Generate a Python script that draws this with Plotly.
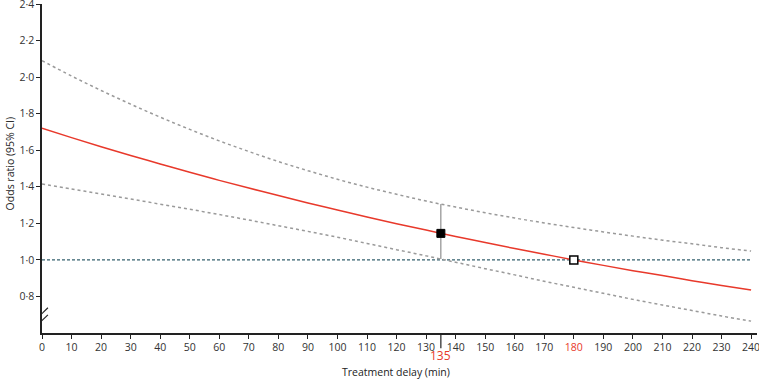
import plotly.graph_objects as go

delay = [0, 10, 20, 30, 40, 50, 60, 70, 80, 90, 100, 110, 120, 130, 140, 150,
         160, 170, 180, 190, 200, 210, 220, 230, 240]
odds = [1.720, 1.669, 1.619, 1.571, 1.525, 1.479, 1.435, 1.393, 1.352, 1.311,
        1.273, 1.235, 1.198, 1.163, 1.128, 1.095, 1.062, 1.031, 1.000, 0.970,
        0.941, 0.914, 0.886, 0.860, 0.835]
upper = [2.090, 2.006, 1.927, 1.852, 1.781, 1.714, 1.651, 1.593, 1.538, 1.488,
         1.441, 1.398, 1.359, 1.322, 1.289, 1.258, 1.229, 1.202, 1.177, 1.153,
         1.130, 1.108, 1.088, 1.067, 1.048]
lower = [1.415, 1.388, 1.361, 1.333, 1.305, 1.277, 1.248, 1.218, 1.187, 1.156,
         1.124, 1.090, 1.056, 1.022, 0.987, 0.952, 0.918, 0.883, 0.850, 0.817,
         0.784, 0.753, 0.723, 0.693, 0.665]

marked_delay = 135
marked_or = 1.145
marked_ci = [1.005, 1.305]
null_delay = 180
null_or = 1.0

xticks = list(range(0, 241, 10))
xticktext = ["<span style='color:#e8392b'>180</span>" if v == 180 else str(v) for v in xticks]
yticks = [0.8, 1.0, 1.2, 1.4, 1.6, 1.8, 2.0, 2.2, 2.4]
yticktext = ["0·8", "1·0", "1·2", "1·4", "1·6", "1·8", "2·0", "2·2", "2·4"]

RED = "#e8392b"
GREY = "#9a9a9a"
FONT = "Open Sans"

fig = go.Figure()

fig.add_trace(go.Scatter(x=[0, 240], y=[1.0, 1.0], mode="lines",
                         line=dict(color="#35606e", width=1.2, dash="3px,2px"),
                         hoverinfo="skip"))
fig.add_trace(go.Scatter(x=delay, y=upper, mode="lines",
                         line=dict(color=GREY, width=1.5, dash="3px,3px"), line_shape="spline"))
fig.add_trace(go.Scatter(x=delay, y=lower, mode="lines",
                         line=dict(color=GREY, width=1.5, dash="3px,3px"), line_shape="spline"))
fig.add_trace(go.Scatter(x=delay, y=odds, mode="lines",
                         line=dict(color=RED, width=1.5), line_shape="spline"))
fig.add_trace(go.Scatter(x=[marked_delay, marked_delay], y=marked_ci, mode="lines",
                         line=dict(color="#777777", width=1)))
fig.add_trace(go.Scatter(x=[marked_delay], y=[marked_or], mode="markers",
                         marker=dict(symbol="square", size=8, color="black",
                                     line=dict(color="black", width=1))))
fig.add_trace(go.Scatter(x=[null_delay], y=[null_or], mode="markers",
                         marker=dict(symbol="square", size=8, color="white",
                                     line=dict(color="black", width=1.5))))

# long tick at 135
fig.add_shape(type="line", xref="x", yref="paper", x0=marked_delay, x1=marked_delay,
              y0=0, y1=-0.046, line=dict(color="#222", width=1.2))
fig.add_annotation(x=marked_delay, xref="x", y=-0.068, yref="paper", yanchor="middle",
                   text="135", showarrow=False, font=dict(color=RED, size=12, family=FONT))

# axis break marks
fig.add_shape(type="line", xref="x", yref="y", x0=0, x1=0, y0=0.675, y1=0.705,
              line=dict(color="white", width=3))
for y0, y1 in [(0.683, 0.738), (0.645, 0.699)]:
    fig.add_shape(type="line", xref="x", yref="y", x0=-1.5, x1=2.0, y0=y0, y1=y1,
                  line=dict(color="#222", width=1.2))

# axis titles
fig.add_annotation(x=(396 - 42) / (759 - 42 - 2), xref="paper", y=-0.118, yref="paper",
                   text="Treatment delay (min)", showarrow=False, yanchor="middle",
                   xanchor="center", font=dict(size=10.5, color="#222"))
fig.add_annotation(x=-0.045, xref="paper", y=0.515, yref="paper",
                   text="Odds ratio (95% CI)", showarrow=False, textangle=-90,
                   xanchor="center", yanchor="middle", font=dict(size=10.5, color="#222"))

fig.update_layout(
    width=759, height=379,
    margin=dict(l=42, r=2, t=4, b=46),
    plot_bgcolor="white", paper_bgcolor="white",
    showlegend=False,
    font=dict(family=FONT, size=10, color="#333"),
    xaxis=dict(range=[0, 242], tickvals=xticks, ticktext=xticktext, automargin=False,
               ticklabeloverflow="allow",
               showgrid=False, zeroline=False, showline=True, linecolor="#222", linewidth=1.5,
               ticks="outside", ticklen=4, tickcolor="#222", tickwidth=1.2,
               tickfont=dict(size=10.5, color="#333")),
    yaxis=dict(range=[0.6, 2.4], tickvals=yticks, ticktext=yticktext, automargin=False,
               ticklabeloverflow="allow",
               showgrid=False, zeroline=False, showline=True, linecolor="#222", linewidth=1.5,
               ticks="outside", ticklen=4, tickcolor="#222", tickwidth=1.2,
               tickfont=dict(size=10.5, color="#333")),
)

fig.write_html("out.html", config={"displayModeBar": False},
               post_script="document.body.style.margin='0px';document.body.style.overflow='hidden';")
